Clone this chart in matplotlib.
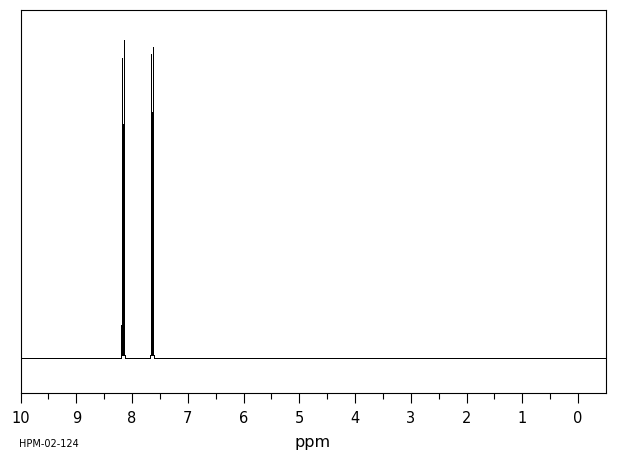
import numpy as np
import matplotlib.pyplot as plt

# 1H NMR stick spectrum, two multiplets (AA'BB' type aromatic pattern)
sampleName = "HPM-02-124"

# line positions (ppm) and intensities (tallest = 100) for each multiplet
mult1_ppm = [8.192, 8.186, 8.177, 8.168, 8.160, 8.152, 8.145, 8.141]
mult1_int = [10.4, 10.4, 94.3, 73.5, 73.5, 73.5, 73.5, 100.0]
mult2_ppm = [7.668, 7.657, 7.648, 7.640, 7.632, 7.625, 7.621, 7.615]
mult2_int = [9.4, 95.6, 77.5, 77.5, 77.5, 77.5, 97.9, 9.4]
pedestal = 1.0  # small raise of the baseline under each multiplet

xmin, xmax = 10.0, -0.5
ymin, ymax = -10.8, 109.4

#----------------------------------------------------------------------------------------------------------

# build one continuous trace: baseline -> pedestal -> sticks -> pedestal -> baseline
trace_x = [xmin]
trace_y = [0.0]
for ppm, inten in [(mult1_ppm, mult1_int), (mult2_ppm, mult2_int)]:
    left = max(ppm) + 0.012
    right = min(ppm) - 0.012
    trace_x += [left, left]
    trace_y += [0.0, pedestal]
    for p, h in zip(ppm, inten):
        trace_x += [p, p, p]
        trace_y += [pedestal, h, pedestal]
    trace_x += [right, right]
    trace_y += [pedestal, 0.0]
trace_x.append(xmax)
trace_y.append(0.0)

plt.rcParams['font.family'] = 'DejaVu Sans'
fig = plt.figure(figsize=(6.2, 4.55), dpi=100)
ax = fig.add_axes([20.5/620, 1-392.5/455, (606-20.5)/620, (392.5-10)/455])

ax.plot(trace_x, trace_y, color='black', lw=0.72, solid_joinstyle='miter', antialiased=False)

ax.set_xlim(xmin, xmax)
ax.set_ylim(ymin, ymax)
ax.set_xticks(np.arange(0, 11, 1))
ax.set_xticks(np.arange(0.5, 10, 1), minor=True)
ax.set_xticklabels([str(i) for i in range(0, 11)])
ax.set_yticks([])
ax.tick_params(axis='x', which='major', direction='out', length=7.2, width=0.8, pad=6, labelsize=10.5)
ax.tick_params(axis='x', which='minor', direction='out', length=4.3, width=0.8)
for s in ax.spines.values():
    s.set_linewidth(0.8)

fig.text(313/620, 1-443/455, "ppm", ha='center', va='center', fontsize=11.5)
fig.text(19/620, 1-444/455, sampleName, ha='left', va='center', fontsize=7)

fig.savefig("out.png", dpi=100)
